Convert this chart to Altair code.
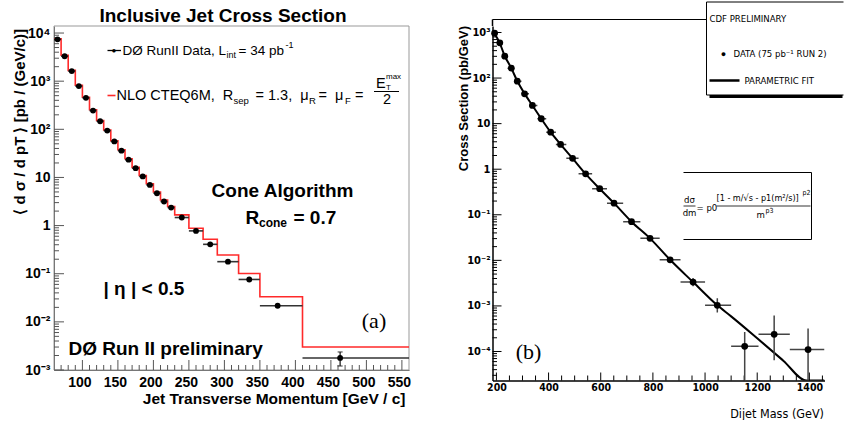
import altair as alt
import pandas as pd

SANS = "'Liberation Sans', Arial, Helvetica, sans-serif"
NARROW = "'Liberation Sans Narrow', 'Arial Narrow', 'DejaVu Sans Condensed', 'Liberation Sans', sans-serif"
SERIF = "'Liberation Serif', 'Times New Roman', serif"
NB = "\u00a0"

# ---------------- Panel (a): D0 inclusive jet cross section ----------------
a_bin_lo = [60, 70, 80, 90, 100, 110, 120, 130, 140, 150, 160, 170, 180, 190, 200, 210, 220, 230, 250, 270, 290, 320, 350, 410]
a_bin_hi = [70, 80, 90, 100, 110, 120, 130, 140, 150, 160, 170, 180, 190, 200, 210, 220, 230, 250, 270, 290, 320, 350, 410, 560]
a_pt = [65, 75, 85, 95, 105, 115, 125, 135, 145, 155, 165, 175, 185, 195, 205, 215, 225, 240, 260, 280, 305, 335, 375, 463]
a_xsec = [7400, 3300, 1620, 790, 450, 245, 147, 94, 56, 36, 23.4, 15.6, 10.5, 7.0, 4.7, 3.16, 2.37, 1.47, 0.776, 0.408, 0.178, 0.076, 0.0216, 0.00178]
a_nlo = [7600, 3450, 1680, 820, 465, 255, 152, 97, 58, 37.5, 24.5, 16.2, 11.0, 7.4, 5.0, 3.4, 2.5, 1.67, 0.88, 0.52, 0.245, 0.101, 0.0332, 0.00301]
a_err_pt = [463]
a_err_lo = [0.00121]
a_err_hi = [0.00237]

a_xtick_major = list(range(100, 551, 50))
a_xtick_minor = [v for v in range(70, 560, 10) if v % 50]
a_ydec = [0.001, 0.01, 0.1, 1, 10, 100, 1000, 10000]
a_ylab = ["10⁻³", "10⁻²", "10⁻¹", "1", "10", "10²", "10³", "10⁴"]
a_ytick_minor = [m * 10.0 ** e for e in range(-3, 4) for m in range(2, 10)]

# ---------------- Panel (b): CDF dijet mass spectrum ----------------
b_m = [193, 213, 232, 257, 280, 308, 338, 372, 408, 446, 492, 542, 596, 651, 718, 789, 866, 954, 1047, 1152, 1265, 1395]
b_xsec = [966, 594, 302, 165, 85.5, 45.2, 25.1, 12.8, 6.5, 3.5, 1.73, 0.79, 0.373, 0.18, 0.0706, 0.0304, 0.0103, 0.00334, 0.00103, 1.30e-4, 2.38e-4, 1.10e-4]
b_bin_lo = [186, 203, 222, 243, 269, 296, 325, 357, 391, 428, 468, 515, 567, 624, 686, 752, 826, 906, 1000, 1100, 1205, 1325]
b_bin_hi = [203, 222, 243, 269, 296, 325, 357, 391, 428, 468, 515, 567, 624, 686, 752, 826, 906, 1000, 1100, 1205, 1325, 1458]
b_err_m = [954, 1047, 1152, 1265, 1395]
b_err_lo = [0.0027, 0.00072, 2.31e-5, 6.4e-5, 2.31e-5]
b_err_hi = [0.0041, 0.00147, 2.68e-4, 6.2e-4, 3.18e-4]
b_fit_m = [190, 212, 232, 257, 280, 308, 338, 372, 408, 446, 492, 542, 596, 651, 718, 789, 866, 954, 1047, 1100, 1200, 1300, 1388, 1458]
b_fit_v = [1000, 600, 305, 165, 86, 45.5, 25, 12.8, 6.5, 3.5, 1.73, 0.79, 0.373, 0.18, 0.0706, 0.0304, 0.0103, 0.00334, 0.00103, 5.9e-4, 1.95e-4, 6.3e-5, 2.31e-5, 2.31e-5]

b_xtick_major = list(range(200, 1401, 200))
b_xtick_minor = [v for v in range(250, 1451, 50) if v % 200]
b_ydec = [0.0001, 0.001, 0.01, 0.1, 1, 10, 100, 1000]
b_ylab = ["10⁻⁴", "10⁻³", "10⁻²", "10⁻¹", "1", "10", "10²", "10³"]
b_ytick_minor = [m * 10.0 ** e for e in range(-5, 3) for m in range(2, 10) if 2.4e-5 < m * 10.0 ** e < 1380]

ONE = pd.DataFrame({"k": [0]})


def txt(s, x, y, size, font=SANS, weight="normal", align="left", baseline="middle", color="black"):
    return alt.Chart(ONE).mark_text(text=s, align=align, baseline=baseline, font=font,
                                    fontSize=size, fontWeight=weight, color=color).encode(
        x=alt.value(x), y=alt.value(y))


def rule(x1, x2, y1, y2, color="black", w=1.0):
    return alt.Chart(ONE).mark_rule(color=color, strokeWidth=w).encode(
        x=alt.value(x1), x2=alt.value(x2), y=alt.value(y1), y2=alt.value(y2))


def sup_expr(vals, labels):
    expr = "''"
    for v, l in reversed(list(zip(vals, labels))):
        expr = f"datum.value == {v!r} ? '{l}' : ({expr})"
    return expr


def xtick_layer(vals, scale, axis, h, length, color):
    return alt.Chart(pd.DataFrame({"t": vals})).mark_rule(color=color, strokeWidth=1).encode(
        x=alt.X("t:Q", scale=scale, axis=axis), y=alt.value(h), y2=alt.value(h - length))


def ytick_layer(vals, scale, axis, length, color):
    return alt.Chart(pd.DataFrame({"t": vals})).mark_rule(color=color, strokeWidth=1).encode(
        y=alt.Y("t:Q", scale=scale, axis=axis), x=alt.value(0), x2=alt.value(length))


# ================= left chart =================
WA, HA = 355, 344
xa = alt.Scale(domain=[60, 560], nice=False, zero=False)
ya = alt.Scale(type="log", domain=[1e-3, 1.4e4], nice=False)
AXA_X = alt.Axis(
    values=a_xtick_major, format="d", ticks=False, tickSize=0, grid=False, labelFont=SANS, labelFontSize=14,
    labelFontWeight="bold", labelColor="black", labelPadding=5, labelOffset=-3, labelFlush=False,
    labelOverlap=False, domainColor="#555555",
    title="Jet Transverse Momentum [GeV / c]", titleFont=SANS, titleFontSize=15.5, titleFontWeight="bold",
    titleColor="black", titleX=WA - 4, titleY=28, titleAlign="right", titleBaseline="middle")
AXA_Y = alt.Axis(
    values=a_ydec, labelExpr=sup_expr(a_ydec, a_ylab), ticks=False, tickSize=0, grid=False,
    labelFont=SANS, labelFontSize=14, labelFontWeight="bold", labelColor="black", labelPadding=4,
    labelOverlap=False, domainColor="#555555",
    title="⟨ d σ / d pT ⟩ [pb / (GeV/c)]", titleFont=SANS, titleFontSize=15, titleFontWeight="bold",
    titleColor="black", titleX=-35, titleY=2.5, titleAngle=270, titleAlign="right", titleBaseline="middle")

df_a = pd.DataFrame({"x": a_pt, "y": a_xsec, "lo": a_bin_lo, "hi": a_bin_hi})
df_step = pd.DataFrame({"x": a_bin_lo + [a_bin_hi[-1]], "y": a_nlo + [a_nlo[-1]]})
df_aerr = pd.DataFrame({"x": a_err_pt, "lo": a_err_lo, "hi": a_err_hi})

frame_a = alt.Chart(ONE).mark_rect(fillOpacity=0, stroke="#999999", strokeWidth=1).encode(
    x=alt.value(0), x2=alt.value(WA), y=alt.value(0), y2=alt.value(HA))
invis_a = rule(-48, 362, -25, -25, color="white", w=1)

step_a = alt.Chart(df_step).mark_line(interpolate="step-after", color="#ff2a2a", strokeWidth=1.6, clip=True).encode(
    x=alt.X("x:Q", scale=xa, axis=AXA_X), y=alt.Y("y:Q", scale=ya, axis=AXA_Y))
hbar_a = alt.Chart(df_a).mark_rule(color="#333333", strokeWidth=1.6, clip=True).encode(
    x=alt.X("lo:Q", scale=xa, axis=AXA_X), x2="hi:Q", y=alt.Y("y:Q", scale=ya, axis=AXA_Y))
vbar_a = alt.Chart(df_aerr).mark_rule(color="#222222", strokeWidth=1.3).encode(
    x=alt.X("x:Q", scale=xa, axis=AXA_X), y=alt.Y("lo:Q", scale=ya, axis=AXA_Y), y2="hi:Q")
cap_lo_a = alt.Chart(df_aerr).mark_tick(orient="horizontal", size=5, thickness=1.3, color="#222222").encode(
    x=alt.X("x:Q", scale=xa, axis=AXA_X), y=alt.Y("lo:Q", scale=ya, axis=AXA_Y))
cap_hi_a = alt.Chart(df_aerr).mark_tick(orient="horizontal", size=5, thickness=1.3, color="#222222").encode(
    x=alt.X("x:Q", scale=xa, axis=AXA_X), y=alt.Y("hi:Q", scale=ya, axis=AXA_Y))
pts_a = alt.Chart(df_a).mark_circle(size=34, color="black", opacity=1).encode(
    x=alt.X("x:Q", scale=xa, axis=AXA_X), y=alt.Y("y:Q", scale=ya, axis=AXA_Y))

LF = 13.5
NF = 14.5
texts_a = [
    txt("Inclusive Jet Cross Section", 169, -4.5, 19, weight="bold", align="center", baseline="alphabetic"),
    rule(53.5, 67, 24.5, 24.5, color="black", w=1.3),
    txt("●", 60, 24.5, 8, align="center"),
    txt("DØ RunII Data, L", 68.5, 24.5, LF),
    txt("int", 172.5, 29, 9),
    txt("= 34 pb", 184.5, 24.5, LF),
    txt("-1", 231.5, 18.5, 9),
    rule(53.5, 61.5, 69.5, 69.5, color="#ff2a2a", w=1.6),
    txt(f"NLO CTEQ6M,{NB} R", 62.5, 69.5, NF),
    txt("sep", 179.5, 74.5, 9.5),
    txt(f"= 1.3,{NB} μ", 201.5, 69.5, NF),
    txt("R", 255, 74.5, 9.5),
    txt(f"={NB} μ", 264.5, 69.5, NF),
    txt("F", 291, 74.5, 9.5),
    txt("=", 301, 69.5, NF),
    txt("E", 322, 57.5, NF),
    txt("max", 332, 50.5, 8),
    txt("T", 332, 62, 8),
    rule(320, 345, 65.5, 65.5, color="black", w=1),
    txt("2", 333, 73.5, NF, align="center"),
    txt("Cone Algorithm", 228.5, 164.5, 19, weight="bold", align="center"),
    txt("R", 191.5, 191.5, 19, weight="bold"),
    txt("cone", 205, 197, 12, weight="bold"),
    txt("= 0.7", 239.5, 191.5, 19, weight="bold"),
    txt("| η | < 0.5", 49.5, 262.5, 19, weight="bold"),
    txt("(a)", 320, 294.5, 22, font=SERIF, align="center"),
    txt("DØ Run II preliminary", 14.5, 322.5, 19, weight="bold"),
]

left = alt.layer(frame_a, invis_a,
                 xtick_layer(a_xtick_minor, xa, AXA_X, HA, 5, "#555555"),
                 xtick_layer(a_xtick_major, xa, AXA_X, HA, 10, "#555555"),
                 ytick_layer(a_ytick_minor, ya, AXA_Y, 5, "#555555"),
                 ytick_layer(a_ydec, ya, AXA_Y, 10, "#555555"),
                 step_a, hbar_a, vbar_a, cap_lo_a, cap_hi_a, pts_a, *texts_a).properties(width=WA, height=HA)

# ================= right chart =================
# plot origins of the two panels share the same top (y=25.5); the frame line of panel (b) sits 6.5 px above
WB, HB = 332, 354.5
xb = alt.Scale(domain=[185, 1458], nice=False, zero=False)
yb = alt.Scale(type="log", domain=[2.31e-5, 1388], nice=False)
AXB_X = alt.Axis(
    values=b_xtick_major, format="d", ticks=False, tickSize=0, grid=False, labelFont=NARROW, labelFontSize=10.5,
    labelFontWeight="bold", labelColor="black", labelPadding=1.5, labelFlush=False, labelOverlap=False,
    domainColor="black", domainWidth=1.5,
    title="Dijet Mass (GeV)", titleFont=NARROW, titleFontSize=12.5, titleFontWeight="normal",
    titleColor="black", titleX=WB - 1, titleY=33, titleAlign="right", titleBaseline="middle")
AXB_Y = alt.Axis(
    values=b_ydec, labelExpr=sup_expr(b_ydec, b_ylab), ticks=False, tickSize=0, grid=False,
    labelFont=NARROW, labelFontSize=11, labelFontWeight="bold", labelColor="black", labelPadding=2.5,
    labelOverlap=False, domainColor="black", domainWidth=1.5,
    title="Cross Section (pb/GeV)", titleFont=SANS, titleFontSize=13, titleFontWeight="bold",
    titleColor="black", titleX=-29, titleY=-0.5, titleAngle=270, titleAlign="right", titleBaseline="middle")

df_b = pd.DataFrame({"x": b_m, "y": b_xsec, "lo": b_bin_lo, "hi": b_bin_hi})
df_berr = pd.DataFrame({"x": b_err_m, "lo": b_err_lo, "hi": b_err_hi})
df_fit = pd.DataFrame({"x": b_fit_m, "y": b_fit_v})

invis_b = rule(-40, -39, 0, 0, color="white", w=1)
topline_b = rule(0, 214, -6.5, -6.5, color="black", w=1.2)
axis_ext_b = rule(0, 0, -6.5, 0, color="black", w=1.5)
fit_b = alt.Chart(df_fit).mark_line(color="black", strokeWidth=2, clip=True, interpolate="monotone").encode(
    x=alt.X("x:Q", scale=xb, axis=AXB_X), y=alt.Y("y:Q", scale=yb, axis=AXB_Y))
hbar_b = alt.Chart(df_b).mark_rule(color="#444444", strokeWidth=1.5, clip=True).encode(
    x=alt.X("lo:Q", scale=xb, axis=AXB_X), x2="hi:Q", y=alt.Y("y:Q", scale=yb, axis=AXB_Y))
vbar_b = alt.Chart(df_berr).mark_rule(color="#444444", strokeWidth=1.5, clip=True).encode(
    x=alt.X("x:Q", scale=xb, axis=AXB_X), y=alt.Y("lo:Q", scale=yb, axis=AXB_Y), y2="hi:Q")
pts_b = alt.Chart(df_b).mark_circle(size=46, color="black", opacity=1).encode(
    x=alt.X("x:Q", scale=xb, axis=AXB_X), y=alt.Y("y:Q", scale=yb, axis=AXB_Y))

legend_box = alt.Chart(ONE).mark_rect(fill="white", strokeWidth=0).encode(
    x=alt.value(214), x2=alt.value(351), y=alt.value(-24), y2=alt.value(69))
texts_b = [
    legend_box,
    rule(214, 351, -24, -24, w=1),
    rule(214, 214, -24, 69, w=1),
    rule(214, 351, 69, 69, w=1),
    rule(217, 350, 70.5, 70.5, w=3),
    txt("CDF PRELIMINARY", 217, -7, 9.5, font=NARROW),
    txt("●", 231, 27.5, 9, align="center"),
    txt("DATA (75 pb⁻¹ RUN 2)", 241, 27.5, 9.5, font=NARROW),
    rule(217, 247, 54.5, 54.5, w=2.5),
    txt("PARAMETRIC FIT", 252, 54.5, 9.5, font=NARROW),
    # formula box
    rule(191, 319, 146.5, 146.5, w=1),
    rule(319, 319, 146.5, 213.5, w=1),
    rule(191, 319, 213.5, 213.5, w=1),
    txt("dσ", 197, 173.5, 9.5, font=NARROW, align="center"),
    rule(191, 203, 180, 180, w=0.8),
    txt("dm", 197, 186.5, 9.5, font=NARROW, align="center"),
    txt("= p0", 204, 181.5, 9.5, font=NARROW),
    txt("[1 - m/√s - p1(m²/s)]", 224, 172, 9, font=NARROW),
    txt("p2", 310, 167, 7, font=NARROW),
    rule(224, 318, 180, 180, w=0.8),
    txt("m", 264, 188.5, 9.5, font=NARROW),
    txt("p3", 273, 185, 7, font=NARROW),
    txt("(b)", 36, 325.5, 22, font=SERIF, align="center"),
]

right = alt.layer(invis_b, topline_b, axis_ext_b,
                  xtick_layer(b_xtick_minor, xb, AXB_X, HB, 5, "black"),
                  xtick_layer(b_xtick_major, xb, AXB_X, HB, 8, "black"),
                  ytick_layer(b_ytick_minor, yb, AXB_Y, 4.5, "black"),
                  ytick_layer(b_ydec, yb, AXB_Y, 9, "black"),
                  fit_b, hbar_b, vbar_b, pts_b, *texts_b).properties(width=WB, height=HB)

chart = alt.hconcat(left, right, spacing=34.5).properties(
    padding={"left": 5, "top": 0, "right": 0, "bottom": 0}, background="white"
).configure_view(stroke=None)

chart.save("out.html", embed_options={"renderer": "svg", "actions": False})
